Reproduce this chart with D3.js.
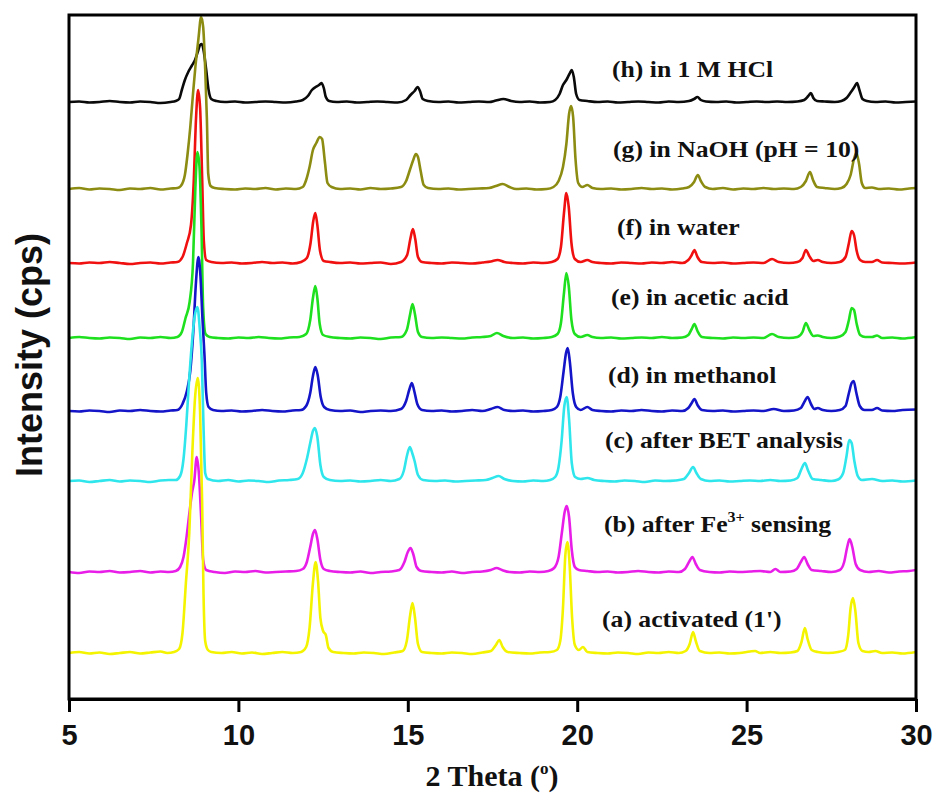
<!DOCTYPE html>
<html>
<head>
<meta charset="utf-8">
<script src="https://cdn.jsdelivr.net/npm/d3@7"></script>
<style>
  body { margin: 0; background: #ffffff; }
  svg { display: block; }
</style>
</head>
<body>
<svg id="chart" width="936" height="796"></svg>
<script>
// Powder XRD patterns, [2θ (deg), intensity above each pattern's own baseline]
const patternA = [[5.0,0],[5.3,1],[5.6,-0.5],[5.9,0.5],[6.2,-1],[6.5,0],[6.8,1],[7.1,-0.5],[7.4,0.5],[7.7,1.5],[7.9,0],[8.1,1],[8.25,4],[8.35,20],[8.45,70],[8.55,120],[8.64,200],[8.72,255],[8.8,275],[8.87,240],[8.93,150],[8.97,60],[9.02,12],[9.1,3],[9.2,1],[9.5,0],[9.8,1],[10.1,-0.5],[10.4,0.5],[10.7,-1],[11.0,0],[11.3,1],[11.6,0],[11.85,1],[12.0,6],[12.1,25],[12.2,70],[12.28,91],[12.35,72],[12.42,35],[12.5,22],[12.58,18],[12.66,5],[12.8,1],[13.1,0],[13.4,-0.5],[13.7,0.5],[14.0,0],[14.3,-1],[14.6,0.5],[14.85,2],[14.97,12],[15.07,38],[15.14,50],[15.21,36],[15.3,9],[15.42,1],[15.7,0],[16.0,-0.5],[16.3,0.5],[16.6,0],[16.9,-1],[17.2,0.5],[17.45,2],[17.6,8],[17.7,13],[17.8,6],[17.95,1],[18.3,0],[18.6,-0.5],[18.9,0.5],[19.2,1],[19.4,3],[19.5,12],[19.58,45],[19.65,98],[19.71,111],[19.77,92],[19.85,35],[19.93,8],[20.05,3],[20.17,6],[20.3,1],[20.6,0],[20.9,-0.5],[21.2,0.5],[21.5,0],[21.8,-1],[22.1,0.5],[22.4,0],[22.7,1],[23.0,0],[23.2,2],[23.32,9],[23.42,21],[23.5,12],[23.62,2],[23.9,0],[24.2,0.5],[24.5,-0.5],[24.8,0],[25.1,1.5],[25.25,2],[25.4,0],[25.7,1],[26.0,0],[26.3,0.5],[26.5,2],[26.62,11],[26.72,25],[26.8,14],[26.92,3],[27.1,1],[27.4,0],[27.7,1],[27.9,3],[28.0,18],[28.07,45],[28.14,55],[28.21,42],[28.3,10],[28.42,2],[28.6,1],[28.8,2],[29.0,0],[29.3,0.5],[29.6,-0.5],[30.0,1]];
const patternB = [[5.0,0],[5.3,-1],[5.6,0.5],[5.9,0],[6.2,1],[6.5,-0.5],[6.8,0],[7.1,1],[7.4,-0.5],[7.7,0.5],[7.95,0],[8.15,1],[8.28,5],[8.38,15],[8.47,35],[8.55,58],[8.63,79],[8.7,92],[8.77,115],[8.83,100],[8.9,55],[8.96,12],[9.05,2],[9.3,0],[9.6,-1],[9.9,0.5],[10.2,0],[10.5,1],[10.8,-0.5],[11.1,0],[11.4,0.5],[11.7,1],[11.9,3],[12.02,10],[12.12,25],[12.2,38],[12.26,42],[12.33,33],[12.42,12],[12.52,3],[12.7,1],[13.0,0],[13.3,-0.5],[13.6,0.5],[13.9,-1],[14.2,0],[14.5,0.5],[14.75,2],[14.9,10],[15.0,20],[15.08,24],[15.16,18],[15.26,5],[15.4,1],[15.7,0],[16.0,-0.5],[16.3,0.5],[16.6,-1],[16.9,0],[17.2,0.5],[17.45,2],[17.62,4],[17.78,2],[18.0,0],[18.3,-0.5],[18.6,0.5],[18.9,0],[19.15,1],[19.32,4],[19.45,15],[19.55,40],[19.63,60],[19.69,66],[19.76,55],[19.84,22],[19.93,5],[20.05,2],[20.3,1],[20.6,0],[20.9,0.5],[21.2,-0.5],[21.5,0],[21.8,1],[22.1,0],[22.4,-0.5],[22.7,0.5],[23.0,0],[23.18,3],[23.3,10],[23.4,15],[23.5,8],[23.62,2],[23.9,0],[24.2,-0.5],[24.5,0.5],[24.8,0],[25.1,0.5],[25.4,1],[25.7,0],[25.85,3],[26.0,0],[26.3,0.5],[26.48,3],[26.6,10],[26.7,15],[26.8,8],[26.92,2],[27.2,1],[27.5,0],[27.75,2],[27.88,10],[27.97,25],[28.04,33],[28.12,25],[28.22,8],[28.35,2],[28.6,0],[28.9,1],[29.2,-0.5],[29.5,0.5],[29.8,1],[30.0,2]];
const patternC = [[5.0,0],[5.3,0.5],[5.6,-1],[5.9,0],[6.2,1],[6.5,-0.5],[6.8,0.5],[7.1,0],[7.4,-1],[7.7,0.5],[7.95,1],[8.15,1],[8.28,5],[8.38,22],[8.46,55],[8.54,98],[8.62,135],[8.71,165],[8.79,174],[8.86,152],[8.92,120],[8.97,55],[9.02,8],[9.1,2],[9.4,0],[9.7,1],[10.0,-0.5],[10.3,0.5],[10.6,0],[10.9,-1],[11.2,0.5],[11.5,1],[11.75,2],[11.9,8],[12.02,22],[12.12,38],[12.2,50],[12.26,53],[12.33,44],[12.42,16],[12.52,4],[12.7,1],[13.0,0],[13.3,0.5],[13.6,-0.5],[13.9,0],[14.2,1],[14.5,0],[14.75,2],[14.88,10],[14.98,26],[15.06,34],[15.13,28],[15.2,20],[15.3,6],[15.45,1],[15.8,0],[16.1,0.5],[16.4,-0.5],[16.7,0],[17.0,0.5],[17.3,1],[17.5,3],[17.68,5],[17.85,2],[18.1,0],[18.4,-0.5],[18.7,0.5],[19.0,0],[19.2,1],[19.35,4],[19.45,14],[19.54,40],[19.62,75],[19.69,84],[19.76,62],[19.84,18],[19.94,4],[20.1,2],[20.3,3],[20.5,1],[20.8,0],[21.1,-0.5],[21.4,0.5],[21.7,0],[22.0,-1],[22.3,0.5],[22.6,0],[22.9,0.5],[23.15,2],[23.3,8],[23.42,14],[23.52,8],[23.65,2],[23.9,0],[24.2,0.5],[24.5,-0.5],[24.8,0],[25.1,0.5],[25.4,0],[25.7,1],[26.0,0],[26.3,0.5],[26.5,3],[26.62,12],[26.72,18],[26.82,10],[26.95,2],[27.2,1],[27.5,0],[27.7,1.5],[27.85,8],[27.95,25],[28.03,41],[28.1,38],[28.18,20],[28.28,5],[28.4,1],[28.7,2],[29.0,0],[29.3,0.5],[29.6,-0.5],[30.0,0.5]];
const patternD = [[5.0,0],[5.3,-0.5],[5.6,0.5],[5.9,0],[6.2,-1],[6.5,0.5],[6.8,0],[7.1,1],[7.4,0],[7.7,-0.5],[8.0,0.5],[8.2,1],[8.35,7],[8.48,20],[8.58,40],[8.67,80],[8.75,130],[8.82,154],[8.88,135],[8.94,92],[9.0,55],[9.05,18],[9.12,4],[9.25,1],[9.5,0],[9.8,0.5],[10.1,-0.5],[10.4,0],[10.7,1],[11.0,0],[11.3,-0.5],[11.6,0.5],[11.85,1],[12.0,5],[12.12,18],[12.2,35],[12.27,44],[12.34,36],[12.43,14],[12.53,4],[12.7,1],[13.0,0],[13.3,0.5],[13.6,-1],[13.9,0],[14.2,0.5],[14.5,0],[14.8,2],[14.95,10],[15.05,22],[15.12,28],[15.19,20],[15.28,7],[15.42,1],[15.7,0],[16.0,0.5],[16.3,-0.5],[16.6,0],[16.9,1],[17.2,0],[17.45,2],[17.65,4],[17.85,1],[18.1,0],[18.4,0.5],[18.7,-0.5],[19.0,0],[19.25,1],[19.4,4],[19.5,14],[19.6,40],[19.67,58],[19.72,63],[19.78,50],[19.87,18],[19.97,4],[20.1,1],[20.3,4],[20.45,1],[20.7,0],[21.0,-0.5],[21.3,0.5],[21.6,0],[21.9,1],[22.2,0],[22.5,-0.5],[22.8,0.5],[23.1,0],[23.28,3],[23.38,8],[23.46,12],[23.55,6],[23.68,1],[24.0,0],[24.3,0.5],[24.6,-0.5],[24.9,0],[25.2,0.5],[25.5,0],[25.8,2],[26.1,0],[26.4,0.5],[26.6,3],[26.72,10],[26.8,14],[26.9,7],[27.0,2],[27.1,3],[27.25,1],[27.5,0],[27.75,1],[27.92,5],[28.02,18],[28.1,28],[28.16,30],[28.24,18],[28.34,5],[28.48,1],[28.7,1],[28.85,3],[29.0,0.5],[29.3,0],[29.6,1],[30.0,1.5]];
const patternE = [[5.0,0],[5.3,1],[5.6,0],[5.9,-0.5],[6.2,0.5],[6.5,0],[6.8,-1],[7.1,0.5],[7.4,0],[7.7,1],[8.0,0],[8.2,1],[8.33,6],[8.44,20],[8.56,36],[8.66,75],[8.73,150],[8.79,186],[8.85,172],[8.91,110],[8.96,30],[9.03,4],[9.15,1],[9.4,0],[9.7,-0.5],[10.0,0.5],[10.3,0],[10.6,1],[10.9,0],[11.2,-0.5],[11.5,0.5],[11.8,1],[12.0,4],[12.12,18],[12.2,40],[12.27,52],[12.33,40],[12.4,14],[12.5,3],[12.7,1],[13.0,0],[13.3,-0.5],[13.6,0.5],[13.9,0],[14.2,-1],[14.5,0.5],[14.8,1],[14.97,8],[15.07,24],[15.14,34],[15.21,24],[15.3,6],[15.42,1],[15.7,0],[16.0,0.5],[16.3,0],[16.6,-0.5],[16.9,0.5],[17.2,1],[17.45,2],[17.63,5],[17.82,2],[18.1,0],[18.4,0.5],[18.7,-0.5],[19.0,0],[19.25,1],[19.42,4],[19.52,15],[19.61,45],[19.68,65],[19.75,52],[19.83,18],[19.93,4],[20.1,1],[20.3,3],[20.45,1],[20.7,0],[21.0,0.5],[21.3,-0.5],[21.6,0],[21.9,0.5],[22.2,0],[22.5,1],[22.8,0],[23.1,0.5],[23.28,3],[23.38,9],[23.46,14],[23.55,7],[23.68,1],[24.0,0],[24.3,-0.5],[24.6,0.5],[24.9,0],[25.2,0.5],[25.5,0],[25.75,4],[25.95,1],[26.25,0],[26.5,1],[26.65,6],[26.75,15],[26.85,8],[26.97,2],[27.1,2.5],[27.25,1],[27.5,0],[27.75,1.5],[27.92,6],[28.02,18],[28.1,30],[28.17,28],[28.25,14],[28.35,3],[28.5,1],[28.7,1],[28.85,2.5],[29.0,0],[29.3,0.5],[29.6,-0.5],[30.0,1]];
const patternF = [[5.0,0],[5.3,-0.5],[5.6,0.5],[5.9,0],[6.2,1],[6.5,0],[6.8,-1],[7.1,0],[7.4,0.5],[7.7,-0.5],[8.0,0.5],[8.2,1],[8.35,6],[8.48,20],[8.6,38],[8.68,80],[8.75,145],[8.81,173],[8.87,155],[8.93,85],[8.98,22],[9.05,3],[9.2,1],[9.5,0],[9.8,0.5],[10.1,-0.5],[10.4,0],[10.7,1],[11.0,0],[11.3,0.5],[11.6,-0.5],[11.85,1],[12.02,5],[12.13,20],[12.21,42],[12.27,50],[12.33,38],[12.41,12],[12.52,2],[12.7,1],[13.0,0],[13.3,0.5],[13.6,-0.5],[13.9,0],[14.2,0.5],[14.5,-1],[14.8,1],[14.98,8],[15.08,25],[15.15,34],[15.22,24],[15.3,6],[15.42,1],[15.7,0],[16.0,-0.5],[16.3,0.5],[16.6,0],[16.9,-0.5],[17.2,0.5],[17.45,1.5],[17.65,3],[17.85,1],[18.1,0],[18.4,-0.5],[18.7,0.5],[19.0,0],[19.25,1],[19.42,4],[19.52,16],[19.61,50],[19.68,70],[19.75,56],[19.83,20],[19.93,4],[20.1,1],[20.3,3],[20.45,1],[20.7,0],[21.0,-0.5],[21.3,0.5],[21.6,0],[21.9,-0.5],[22.2,0.5],[22.5,0],[22.8,1],[23.1,0],[23.28,3],[23.38,8],[23.46,13],[23.55,6],[23.68,1],[24.0,0],[24.3,0.5],[24.6,-0.5],[24.9,0],[25.2,0.5],[25.5,0],[25.75,4],[25.95,1],[26.25,0],[26.5,1],[26.65,5],[26.75,13],[26.85,7],[26.97,2],[27.1,3],[27.25,1],[27.5,0],[27.75,1],[27.92,6],[28.02,20],[28.1,32],[28.17,28],[28.25,12],[28.35,3],[28.5,1],[28.7,1],[28.85,3],[29.0,0.5],[29.3,0],[29.6,-0.5],[30.0,0.5]];
const patternG = [[5.0,0],[5.3,1],[5.6,-0.5],[5.9,0.5],[6.2,0],[6.5,-1],[6.8,0.5],[7.1,0],[7.4,1],[7.7,-0.5],[8.0,0.5],[8.2,1],[8.3,3],[8.42,14],[8.5,35],[8.58,62],[8.66,95],[8.73,122],[8.82,150],[8.9,172],[8.96,162],[9.02,120],[9.07,70],[9.11,15],[9.18,3],[9.3,1],[9.6,0],[9.9,-0.5],[10.2,0.5],[10.5,0],[10.8,1],[11.1,-0.5],[11.4,0.5],[11.7,0],[11.9,2],[12.0,9],[12.1,22],[12.2,39],[12.3,46],[12.4,52],[12.47,50],[12.55,28],[12.63,6],[12.75,2],[13.0,0],[13.3,0.5],[13.6,-0.5],[13.9,1],[14.2,0],[14.5,0.5],[14.8,2],[14.95,8],[15.07,20],[15.15,28],[15.24,35],[15.3,32],[15.38,18],[15.47,4],[15.6,1],[15.9,0],[16.2,0.5],[16.5,-0.5],[16.8,0],[17.1,0.5],[17.4,1],[17.6,3],[17.8,5],[18.0,2],[18.2,0],[18.5,0.5],[18.8,-0.5],[19.1,0],[19.3,2],[19.45,8],[19.58,22],[19.68,45],[19.76,75],[19.82,83],[19.88,72],[19.95,30],[20.03,6],[20.15,2],[20.3,4],[20.45,1],[20.7,0],[21.0,0.5],[21.3,-0.5],[21.6,0],[21.9,1],[22.2,0],[22.5,0.5],[22.8,-0.5],[23.1,0.5],[23.3,2],[23.45,7],[23.56,14],[23.65,8],[23.78,2],[24.0,0],[24.3,1],[24.6,-0.5],[24.9,0.5],[25.2,0],[25.5,1],[25.8,0],[26.1,0.5],[26.4,0],[26.6,2],[26.75,8],[26.87,17],[26.96,9],[27.08,2],[27.3,1],[27.6,0],[27.8,1],[27.95,5],[28.07,14],[28.17,30],[28.24,36],[28.32,25],[28.4,6],[28.5,1],[28.7,1.5],[28.9,0],[29.2,0.5],[29.5,-0.5],[29.8,0.5],[30.0,1]];
const patternH = [[5.0,0],[5.3,0.5],[5.6,-0.5],[5.9,0],[6.2,1],[6.5,0],[6.8,-0.5],[7.1,0.5],[7.4,0],[7.7,-1],[8.0,0],[8.15,1],[8.25,3],[8.33,12],[8.42,22],[8.52,30],[8.62,36],[8.72,42],[8.8,50],[8.87,57],[8.92,58],[8.98,50],[9.05,32],[9.12,12],[9.2,3],[9.35,1],[9.6,0],[9.9,0.5],[10.2,-0.5],[10.5,0],[10.8,0.5],[11.1,0],[11.4,-0.5],[11.7,0.5],[11.9,2],[12.05,6],[12.17,12],[12.28,15],[12.38,17],[12.45,19],[12.52,14],[12.58,5],[12.68,1],[12.9,0],[13.2,0.5],[13.5,-0.5],[13.8,0],[14.1,0.5],[14.4,0],[14.7,-0.5],[14.95,2],[15.08,7],[15.2,11],[15.29,15],[15.36,11],[15.44,3],[15.6,1],[15.9,0],[16.2,0.5],[16.5,-0.5],[16.8,0],[17.1,0.5],[17.4,0],[17.6,1.5],[17.82,3],[18.05,1],[18.3,0],[18.6,0.5],[18.9,-0.5],[19.2,0],[19.35,2],[19.48,8],[19.58,17],[19.68,22],[19.77,28],[19.84,32],[19.9,25],[19.97,8],[20.07,2],[20.3,1],[20.6,0],[20.9,0.5],[21.2,-0.5],[21.5,0],[21.8,0.5],[22.1,0],[22.4,-0.5],[22.7,0.5],[23.0,0],[23.3,1],[23.45,3],[23.55,5],[23.65,2],[23.8,0.5],[24.1,0],[24.4,0.5],[24.7,-0.5],[25.0,0],[25.3,0.5],[25.6,0],[25.9,0.5],[26.2,0],[26.5,0.5],[26.7,2],[26.82,6],[26.9,9],[26.97,4],[27.08,1],[27.3,0.5],[27.6,0],[27.8,1],[27.95,4],[28.08,10],[28.18,15],[28.26,19],[28.33,12],[28.42,3],[28.55,1],[28.8,0],[29.1,0.5],[29.4,-0.5],[29.7,0],[30.0,0.5]];

// Vertical offset (stacking) of each pattern, same units as intensity
const stackOffsets = { a: 46, b: 127, c: 218, d: 288, e: 361, f: 436, g: 510, h: 597 };

const seriesLabels = {
  a: "(a) activated (1')",
  b: "(b) after Fe|3+| sensing",
  c: "(c) after BET analysis",
  d: "(d) in methanol",
  e: "(e) in acetic acid",
  f: "(f) in water",
  g: "(g) in NaOH (pH = 10)",
  h: "(h) in 1 M HCl"
};

const xTickValues = [5, 10, 15, 20, 25, 30];
const xAxisTitle = "2 Theta (";
const yAxisTitle = "Intensity (cps)";

// ---- styling / layout ----
const patterns = { a: patternA, b: patternB, c: patternC, d: patternD, e: patternE, f: patternF, g: patternG, h: patternH };
const lineColors = { a: "#f4f400", b: "#e81ee8", c: "#2ee6ec", d: "#1414c8", e: "#1fe01f", f: "#f01010", g: "#8c8c12", h: "#0a0a0a" };
// later patterns are painted over earlier ones
const drawOrder = ["h", "g", "f", "e", "d", "c", "b", "a"];
// label anchor: start x (px) and baseline y (px)
const labelPos = {
  h: [612, 77], g: [613, 157], f: [617, 235], e: [611, 305],
  d: [608, 383], c: [605, 448], b: [604, 532], a: [602, 627]
};

const W = 936, H = 796;
const plot = { left: 69, right: 916, top: 15, bottom: 699 };

const svg = d3.select("#chart");
svg.append("rect").attr("width", W).attr("height", H).attr("fill", "#ffffff");

const x = d3.scaleLinear().domain([5, 30]).range([plot.left, plot.right]);
const y = d3.scaleLinear().domain([0, plot.bottom - plot.top]).range([plot.bottom, plot.top]);

const clip = svg.append("defs").append("clipPath").attr("id", "plotClip");
clip.append("rect")
  .attr("x", plot.left).attr("y", plot.top - 1)
  .attr("width", plot.right - plot.left).attr("height", plot.bottom - plot.top + 1);

const traces = svg.append("g").attr("clip-path", "url(#plotClip)");

drawOrder.forEach(key => {
  const off = stackOffsets[key];
  const line = d3.line()
    .x(d => x(d[0]))
    .y(d => y(d[1] + off))
    .curve(d3.curveMonotoneX);
  traces.append("path")
    .datum(patterns[key])
    .attr("d", line)
    .attr("fill", "none")
    .attr("stroke", lineColors[key])
    .attr("stroke-width", 2.6)
    .attr("stroke-linejoin", "round")
    .attr("stroke-linecap", "round");
});

// frame
svg.append("rect")
  .attr("x", plot.left).attr("y", plot.top)
  .attr("width", plot.right - plot.left).attr("height", plot.bottom - plot.top)
  .attr("fill", "none").attr("stroke", "#000").attr("stroke-width", 3);

// bottom axis
const xAxis = d3.axisBottom(x).tickValues(xTickValues).tickSize(13).tickSizeOuter(0).tickPadding(12);
const gx = svg.append("g").attr("transform", `translate(0,${plot.bottom})`).call(xAxis);
gx.select(".domain").attr("stroke", "#000").attr("stroke-width", 3);
gx.selectAll(".tick line").attr("stroke", "#000").attr("stroke-width", 3);
gx.selectAll(".tick text")
  .attr("fill", "#111")
  .style("font-family", "'Liberation Sans', Arial, sans-serif")
  .style("font-weight", "bold")
  .style("font-size", "29px");

// axis titles
const xt = svg.append("text")
  .attr("x", 492).attr("y", 786)
  .attr("text-anchor", "middle")
  .style("font-family", "'Liberation Serif', 'Times New Roman', serif")
  .style("font-weight", "bold")
  .style("font-size", "30px")
  .attr("fill", "#111");
xt.append("tspan").text(xAxisTitle);
xt.append("tspan").attr("dy", -12).style("font-size", "17px").text("o");
xt.append("tspan").attr("dy", 12).text(")");

svg.append("text")
  .attr("transform", "translate(42,355) rotate(-90)")
  .attr("text-anchor", "middle")
  .style("font-family", "'Liberation Sans', Arial, sans-serif")
  .style("font-weight", "bold")
  .style("font-size", "36px")
  .attr("fill", "#111")
  .text(yAxisTitle);

// series labels (|...| marks a superscript); slightly wide-set lettering
Object.keys(seriesLabels).forEach(key => {
  const [lx, ly] = labelPos[key];
  const t = svg.append("text")
    .attr("transform", `translate(${lx},${ly}) scale(1.07,1)`)
    .style("font-family", "'Liberation Serif', 'Times New Roman', serif")
    .style("font-weight", "bold")
    .style("font-size", "24px")
    .attr("fill", "#111");
  const parts = seriesLabels[key].split("|");
  parts.forEach((p, i) => {
    if (i % 2 === 1) {
      t.append("tspan").attr("dy", -10).style("font-size", "15px").text(p);
    } else {
      const ts = t.append("tspan").text(p);
      if (i > 0) ts.attr("dy", 10);
    }
  });
});
</script>
</body>
</html>
